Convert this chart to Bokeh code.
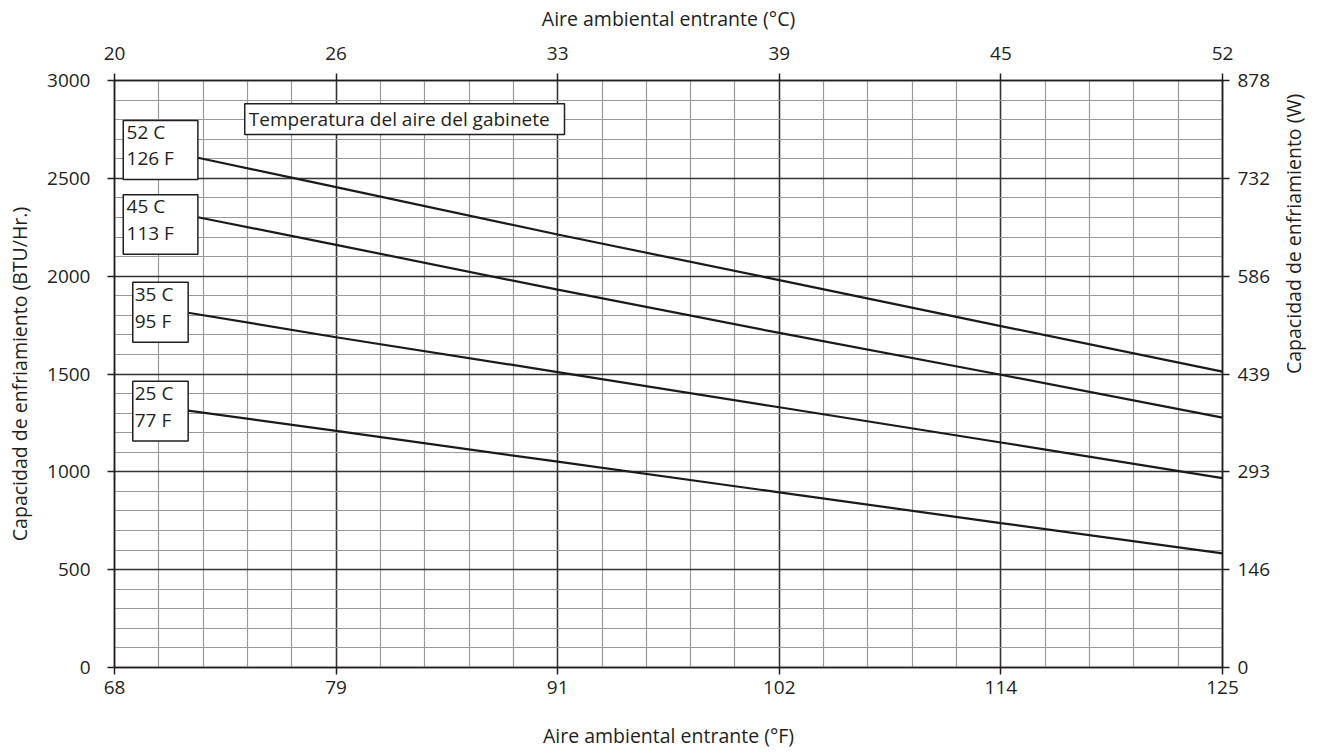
import math
import numpy as np
from bokeh.plotting import figure
from bokeh.models import Range1d, LinearAxis, FixedTicker
from bokeh.core.properties import value
from bokeh.embed import file_html
from bokeh.resources import INLINE

# Axis ticks: the °F scale is evenly divided, labels are the rounded readings
f_ticks = [68, 79.4, 90.8, 102.2, 113.6, 125]
f_labels = ["68", "79", "91", "102", "114", "125"]
c_labels = ["20", "26", "33", "39", "45", "52"]
btu_ticks = [0, 500, 1000, 1500, 2000, 2500, 3000]
watt_labels = ["0", "146", "293", "439", "586", "732", "878"]

# Cabinet air temperature curves (capacity in BTU/Hr vs. ambient air in °F)
cabinet_c = ["52 C", "45 C", "35 C", "25 C"]
cabinet_f = ["126 F", "113 F", "95 F", "77 F"]

ambient_52 = [72.29, 79.4, 90.8, 102.2, 113.6, 125]
capacity_52 = [2605, 2455, 2213, 1980, 1745, 1512]

ambient_45 = [72.29, 79.4, 90.8, 102.2, 113.6, 125]
capacity_45 = [2301, 2160, 1931, 1710, 1496, 1277]

ambient_35 = [71.79, 79.4, 90.8, 102.2, 113.6, 125]
capacity_35 = [1813, 1688, 1510, 1330, 1150, 968]

ambient_25 = [71.79, 79.4, 90.8, 102.2, 113.6, 125]
capacity_25 = [1313, 1209, 1052, 895, 738, 583]

FONT = "Open Sans"
INK = "#231f20"
SIZE = "19px"
TITLE_SIZE = "19.5px"

p = figure(
    width=1323, height=752,
    x_range=Range1d(68, 125), y_range=Range1d(0, 3000),
    output_backend="svg", toolbar_location=None,
    min_border_left=114, min_border_right=101,
    min_border_top=80, min_border_bottom=85,
    x_axis_label="Aire ambiental entrante (°F)",
    y_axis_label="Capacidad de enfriamiento (BTU/Hr.)",
)
p.background_fill_color = "white"
p.border_fill_color = "white"
p.outline_line_color = INK
p.outline_line_width = 1.5

bottom_axis = p.below[0]
left_axis = p.left[0]

x_ticker = FixedTicker(ticks=f_ticks, minor_ticks=list(np.linspace(68, 125, 26)))
y_ticker = FixedTicker(ticks=btu_ticks, minor_ticks=list(range(0, 3001, 100)))

bottom_axis.ticker = x_ticker
left_axis.ticker = y_ticker
bottom_axis.major_label_overrides = {t: l for t, l in zip(f_ticks, f_labels)}

top_axis = LinearAxis(ticker=x_ticker, axis_label="Aire ambiental entrante (°C)",
                      major_label_overrides={t: l for t, l in zip(f_ticks, c_labels)})
right_axis = LinearAxis(ticker=y_ticker, axis_label="Capacidad de enfriamiento (W)",
                        major_label_overrides={t: l for t, l in zip(btu_ticks, watt_labels)})
p.add_layout(top_axis, "above")
p.add_layout(right_axis, "right")


def style_axis(ax, label_standoff, title_standoff):
    ax.axis_line_color = INK
    ax.axis_line_width = 1.5
    ax.major_tick_line_color = INK
    ax.major_tick_line_width = 1.5
    ax.major_tick_out = 7
    ax.major_tick_in = 0
    ax.minor_tick_out = 0
    ax.minor_tick_in = 0
    ax.major_label_text_font = FONT
    ax.major_label_text_font_size = SIZE
    ax.major_label_text_color = INK
    ax.major_label_standoff = label_standoff
    ax.axis_label_text_font = FONT
    ax.axis_label_text_font_size = TITLE_SIZE
    ax.axis_label_text_font_style = "normal"
    ax.axis_label_text_color = INK
    ax.axis_label_standoff = title_standoff


style_axis(left_axis, 17, 11)
style_axis(bottom_axis, 6, 25)
style_axis(top_axis, 14, 12)
style_axis(right_axis, 8, 20)

# Right-hand title reads upwards, like the left one
right_axis.axis_label_orientation = math.pi / 2

for g, tk in ((p.xgrid[0], x_ticker), (p.ygrid[0], y_ticker)):
    g.ticker = tk
    g.grid_line_color = "#333333"
    g.grid_line_width = 1.5
    g.minor_grid_line_color = "#9a9a9a"
    g.minor_grid_line_width = 1.2

# Capacity curves
for xs, ys in ((ambient_52, capacity_52), (ambient_45, capacity_45),
               (ambient_35, capacity_35), (ambient_25, capacity_25)):
    p.line(xs, ys, line_color="#1a1a1a", line_width=2.2)

# Curve label boxes (°F / capacity coordinates of each box and its text rows)
box_left = [68.45, 68.45, 68.94, 68.94]
box_right = [72.29, 72.29, 71.79, 71.79]
box_top = [2796, 2416, 1969, 1463]
box_bottom = [2494, 2112, 1662, 1157]
text_x = [68.62, 68.62, 69.04, 69.04]
row1_y = [2736, 2358, 1910, 1404]
row2_y = [2605, 2222, 1773, 1267]

p.quad(left=box_left, right=box_right, top=box_top, bottom=box_bottom,
       fill_color="white", line_color=INK, line_width=1.5)
p.text(x=text_x, y=row1_y, text=cabinet_c, text_font=value(FONT),
       text_font_size=SIZE, text_color=INK, text_baseline="middle", text_align="left")
p.text(x=text_x, y=row2_y, text=cabinet_f, text_font=value(FONT),
       text_font_size=SIZE, text_color=INK, text_baseline="middle", text_align="left")

# Legend heading box
p.quad(left=[74.70], right=[91.15], top=[2881], bottom=[2724],
       fill_color="white", line_color=INK, line_width=1.5)
p.text(x=[74.91], y=[2802], text=["Temperatura del aire del gabinete"],
       text_font=value(FONT), text_font_size=SIZE, text_color=INK,
       text_baseline="middle", text_align="left")

open("out.html", "w").write(file_html(p, INLINE))
